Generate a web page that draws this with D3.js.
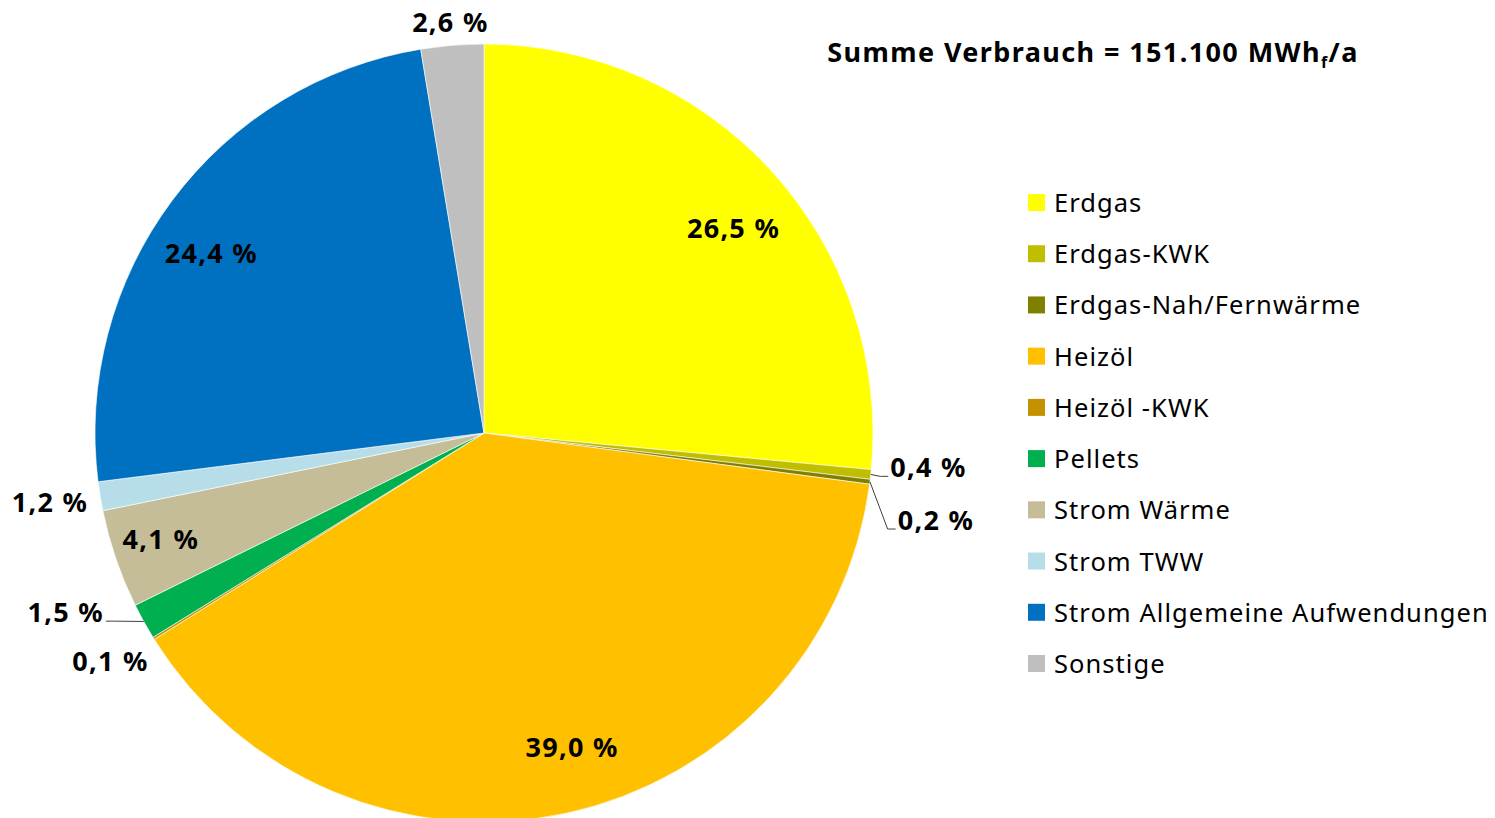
<!DOCTYPE html>
<meta charset="utf-8">
<style>
body { margin: 0; background: #fff; }
svg text { font-family: "Noto Sans", "Open Sans", sans-serif; fill: #000; }
.pct { font-weight: bold; font-size: 27px; letter-spacing: 1.3px; }
.legend text { font-size: 25.5px; letter-spacing: 1.05px; }
.title { font-weight: bold; font-size: 27px; letter-spacing: 1.4px; }
.leader { fill: none; stroke: #404040; stroke-width: 1px; }
</style>
<body>
<script src="https://cdnjs.cloudflare.com/ajax/libs/d3/7.8.5/d3.min.js"></script>
<script>
// Anteile am Verbrauch in %
var categories = ["Erdgas", "Erdgas-KWK", "Erdgas-Nah/Fernwärme", "Heizöl", "Heizöl -KWK",
                  "Pellets", "Strom Wärme", "Strom TWW", "Strom Allgemeine Aufwendungen", "Sonstige"];
var shares = [26.5, 0.4, 0.2, 39.0, 0.1, 1.5, 4.1, 1.2, 24.4, 2.6];
var colors = ["#FFFF00", "#BFBF00", "#7F7F00", "#FFC000", "#C49200",
              "#00B050", "#C4BD97", "#B7DEE8", "#0070C0", "#BFBFBF"];

// label placement: angle shift (deg) from slice middle, radius factor, leader line
var labelPlace = [
  {da: 2.9, r: 0.83},
  {da: -1.7, r: 1.146, leader: "right"},
  {da: 3.7, r: 1.183, leader: "right"},
  {da: -3.4, r: 0.84},
  {da: 0.4, r: 1.126},
  {da: 5.8, r: 1.17, leader: "left"},
  {da: 0.6, r: 0.875},
  {da: 0.2, r: 1.13},
  {da: -3.3, r: 0.84},
  {da: 0, r: 1.06}
];

var width = 1495, height = 818;
var cx = 484, cy = 433, R = 389;

var svg = d3.select("body").append("svg")
    .attr("width", width)
    .attr("height", height);

var pie = d3.pie().sort(null).value(function(d) { return d; });
var arcs = pie(shares);
var arc = d3.arc().innerRadius(0).outerRadius(R);

var g = svg.append("g").attr("transform", "translate(" + cx + "," + cy + ")");

g.selectAll("path.slice")
    .data(arcs)
    .enter().append("path")
    .attr("class", "slice")
    .attr("d", arc)
    .attr("fill", function(d, i) { return colors[i]; })
    .attr("stroke", "#fff")
    .attr("stroke-width", 0.6);

function polar(a, r) { return [r * Math.sin(a), -r * Math.cos(a)]; }
function fmt(v) { return v.toFixed(1).replace(".", ",") + " %"; }

arcs.forEach(function(d, i) {
  var p = labelPlace[i];
  var mid = (d.startAngle + d.endAngle) / 2;
  var pos = polar(mid + p.da * Math.PI / 180, R * p.r);
  var t = g.append("text")
      .attr("class", "pct")
      .attr("x", pos[0])
      .attr("y", pos[1] - 1)
      .attr("text-anchor", "middle")
      .attr("dominant-baseline", "central")
      .text(fmt(shares[i]));
  if (p.leader) {
    var w = t.node().getComputedTextLength();
    var edge = polar(mid, R);
    var ly = pos[1] + 9;
    var side, pts;
    if (p.leader === "right") {
      side = pos[0] - w / 2;
      pts = [edge, [side - 10, ly], [side - 2, ly]];
    } else {
      side = pos[0] + w / 2;
      pts = [edge, [side + 10, ly], [side + 2, ly]];
    }
    g.append("path").attr("class", "leader").attr("d", d3.line()(pts));
  }
});

// Titel
var title = svg.append("text")
    .attr("class", "title")
    .attr("x", 1093)
    .attr("y", 62)
    .attr("text-anchor", "middle");
title.append("tspan").text("Summe Verbrauch = 151.100 MWh");
title.append("tspan").attr("font-size", "16px").attr("dy", 6).text("f");
title.append("tspan").attr("dy", -6).text("/a");

// Legende
var legendY = d3.scalePoint().domain(categories).range([202, 663]);
var legend = svg.append("g").attr("class", "legend");
var item = legend.selectAll("g")
    .data(categories)
    .enter().append("g")
    .attr("transform", function(d) { return "translate(1028," + legendY(d) + ")"; });
item.append("rect")
    .attr("x", 0).attr("y", -8)
    .attr("width", 17).attr("height", 17)
    .attr("fill", function(d, i) { return colors[i]; });
item.append("text")
    .attr("x", 26)
    .attr("y", 0)
    .attr("dominant-baseline", "central")
    .text(function(d) { return d; });
</script>
</body>
